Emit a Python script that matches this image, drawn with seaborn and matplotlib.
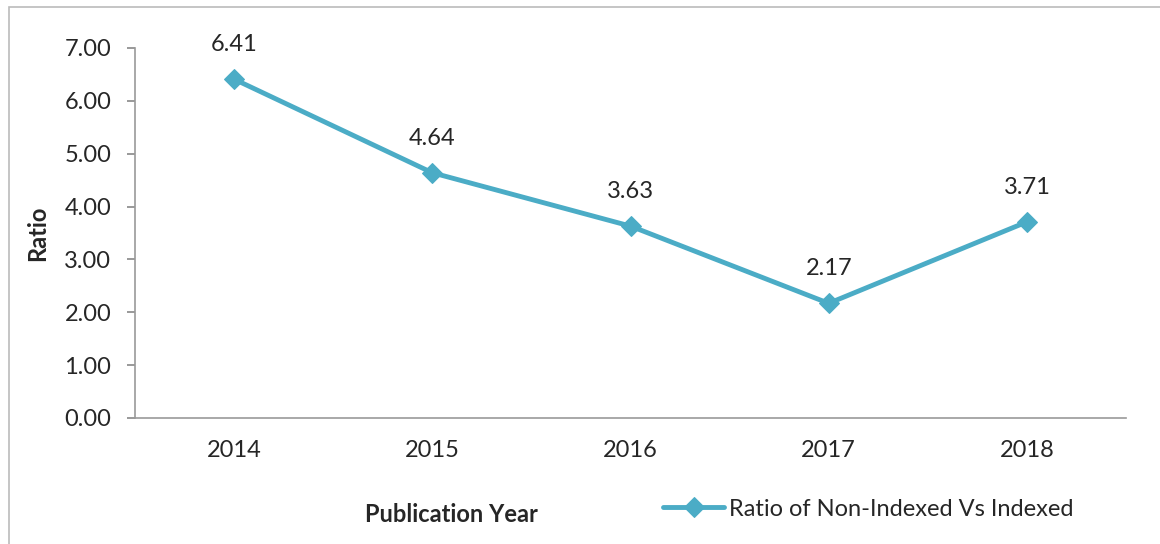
import pandas as pd
import matplotlib
matplotlib.use("Agg")
import matplotlib.pyplot as plt
import seaborn as sns
from matplotlib.patches import Rectangle

# Data
years = ["2014", "2015", "2016", "2017", "2018"]
ratios = [6.41, 4.64, 3.63, 2.17, 3.71]
series_name = "Ratio of Non-Indexed Vs Indexed"

df = pd.DataFrame({"year": years, "ratio": ratios})

sns.set_style("white")
plt.rcParams["font.family"] = ["Lato", "DejaVu Sans"]

fs = 17
color = "#4BACC6"
fig = plt.figure(figsize=(11.6, 5.44), dpi=100)
ax = fig.add_axes([135 / 1160, 1 - 418 / 544, (1126 - 135) / 1160, (418 - 48) / 544])

sns.lineplot(data=df, x="year", y="ratio", ax=ax, color=color, linewidth=3.5,
             marker="D", markersize=10, markeredgecolor=color, label=series_name,
             sort=False)

# value labels above points
for i, v in enumerate(ratios):
    ax.annotate(f"{v:.2f}", (i, v), xytext=(0, 25), textcoords="offset points",
                ha="center", va="center", fontsize=fs)

ax.set_xlim(-0.5, len(years) - 0.5)
ax.set_ylim(0, 7)
ax.set_yticks([0, 1, 2, 3, 4, 5, 6, 7])
ax.set_yticklabels([f"{t:.2f}" for t in range(8)], fontsize=fs)
ax.tick_params(axis="x", labelsize=fs, length=0, pad=16)
ax.tick_params(axis="y", length=6, color="#888888", width=1.2, left=True, pad=11)

for s in ["top", "right"]:
    ax.spines[s].set_visible(False)
for s in ["left", "bottom"]:
    ax.spines[s].set_color("#999999")
    ax.spines[s].set_linewidth(1.2)

ax.set_xlabel("")
ax.set_ylabel("")
fig.text(38 / 1160, 1 - 233 / 544, "Ratio", rotation=90, ha="center", va="center",
         fontsize=fs, fontweight="bold")
fig.text(451 / 1160, 1 - 515 / 544, "Publication Year", ha="center", va="center",
         fontsize=fs, fontweight="bold")

ax.legend(loc="center left", bbox_to_anchor=(663 / 1160, 1 - 509 / 544),
          bbox_transform=fig.transFigure, frameon=False, fontsize=fs,
          handlelength=2.6, handletextpad=0.2, borderaxespad=0, borderpad=0)

# chart area border
fig.patches.append(Rectangle((9 / 1160, -0.1), 1.2, 1 - 7 / 544 + 0.1,
                             transform=fig.transFigure, fill=False,
                             edgecolor="#BBBBBB", linewidth=1.2))

fig.savefig("out.png", dpi=100)
